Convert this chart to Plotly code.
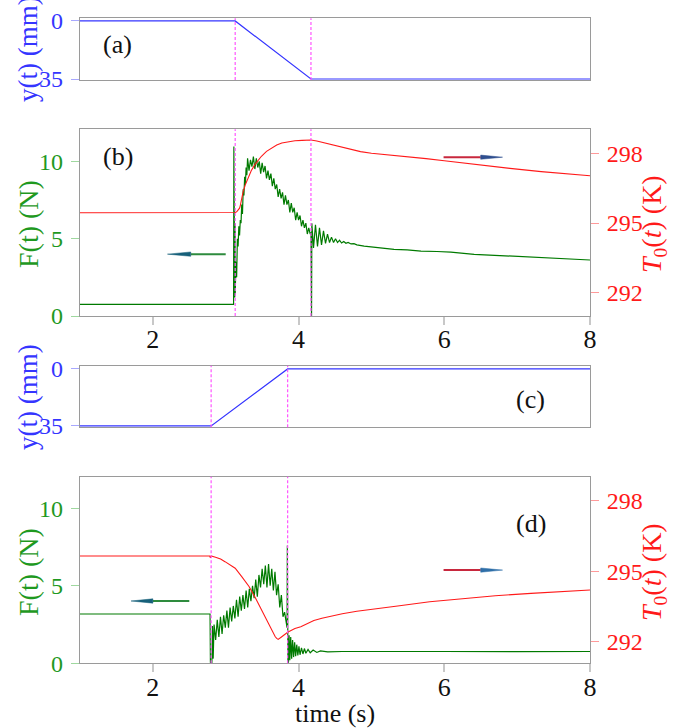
import plotly.graph_objects as go

# ---------------- data ----------------
# panel (a): displacement y(t)
t_a = [1.0, 3.13, 4.17, 8.0]
y_a = [0, 0, 35, 35]

# panel (b): force F(t) and temperature T0(t)
t_bF = [1.0, 2.0, 3.108, 3.112, 3.116, 3.120, 3.124, 3.128, 3.13, 3.14, 3.15, 3.16, 3.17, 3.18, 3.19,
        3.20, 3.21, 3.22, 3.23, 3.24, 3.25, 3.26, 3.27, 3.28, 3.29,
        3.30, 3.32, 3.34, 3.36, 3.38, 3.40, 3.42, 3.44, 3.46, 3.48, 3.50, 3.52, 3.54, 3.56, 3.58,
        3.60, 3.62, 3.64, 3.66, 3.68, 3.70, 3.72, 3.74, 3.76, 3.78, 3.80, 3.82, 3.84, 3.86, 3.88,
        3.90, 3.92, 3.94, 3.96, 3.98, 4.00, 4.02, 4.04, 4.06, 4.08, 4.10, 4.12, 4.14, 4.16,
        4.170, 4.173, 4.178, 4.182, 4.205, 4.232, 4.26, 4.287, 4.315, 4.342, 4.37, 4.397, 4.425,
        4.452, 4.48, 4.507, 4.535, 4.562, 4.59, 4.62, 4.65, 4.68, 4.72, 4.76, 4.80, 4.90, 5.0,
        5.15, 5.31, 5.49, 5.68, 5.9, 6.09, 6.41, 6.7, 7.0, 7.33, 7.55, 7.78, 8.0]
F_b = [0.75, 0.76, 0.75, 10.95, 3.0, 8.5, 1.2, 6.0, 1.4, 3.5, 2.5, 5.0, 4.5, 5.8, 5.2,
       6.2, 6.0, 7.2, 6.6, 8.2, 7.8, 9.0, 8.5, 9.6, 9.1,
       10.2, 9.4, 10.1, 9.65, 10.3, 9.5, 10.2, 9.6, 10.0, 9.2, 9.9, 9.3, 9.7, 8.9, 9.4,
       8.8, 9.2, 8.4, 8.9, 8.2, 8.5, 7.7, 8.2, 7.6, 8.0, 7.2, 7.8, 7.2, 7.5, 6.7,
       7.3, 6.7, 7.0, 6.2, 6.7, 6.2, 6.5, 5.8, 6.2, 5.7, 6.0, 5.3, 5.7, 5.3,
       5.4, 0.0, 0.0, 6.0, 4.4, 5.9, 4.5, 5.7, 4.6, 5.5, 4.7, 5.3, 4.75,
       5.1, 4.75, 5.0, 4.75, 4.9, 4.72, 4.82, 4.7, 4.76, 4.66, 4.68, 4.6, 4.52, 4.47,
       4.40, 4.31, 4.28, 4.20, 4.17, 4.13, 3.99, 3.92, 3.85, 3.79, 3.72, 3.66, 3.62]

t_bT = [1.0, 3.12, 3.13, 3.15, 3.17, 3.19, 3.20, 3.22, 3.24, 3.27, 3.31, 3.35, 3.40, 3.45, 3.49,
        3.56, 3.63, 3.70, 3.77, 3.86, 3.95, 4.05, 4.12, 4.17, 4.25, 4.35, 4.45, 4.58, 4.71,
        4.85, 5.0, 5.25, 5.49, 5.75, 6.0, 6.41, 6.9, 7.33, 7.7, 8.0]
T_b = [295.44, 295.44, 295.45, 295.48, 295.55, 295.64, 295.75, 296.05, 296.36, 296.65, 296.94,
       297.25, 297.51, 297.72, 297.87, 298.08, 298.23, 298.35, 298.44, 298.50, 298.54, 298.555,
       298.565, 298.57, 298.53, 298.45, 298.37, 298.26, 298.16, 298.07, 298.0, 297.93, 297.86,
       297.77, 297.68, 297.52, 297.35, 297.21, 297.11, 297.03]

# panel (c): displacement y(t)
t_c = [1.0, 2.80, 3.85, 8.0]
y_c = [35, 35, 0, 0]

# panel (d): force F(t) and temperature T0(t)
t_dF = [1.0, 2.0, 2.785, 2.790, 2.800, 2.810, 2.818, 2.828, 2.840, 2.862, 2.884, 2.906, 2.928,
        2.950, 2.972, 2.994, 3.016, 3.038, 3.060, 3.082, 3.104, 3.126, 3.148, 3.170, 3.192,
        3.214, 3.236, 3.258, 3.280, 3.302, 3.324, 3.346, 3.368, 3.390, 3.412, 3.434, 3.456,
        3.478, 3.500, 3.522, 3.544, 3.566, 3.588, 3.610, 3.632, 3.654, 3.676, 3.698, 3.720,
        3.742, 3.764, 3.786, 3.808, 3.830, 3.842, 3.846, 3.850, 3.854, 3.862, 3.870, 3.880,
        3.892, 3.905, 3.918, 3.932, 3.946, 3.960, 3.975, 3.990, 4.005, 4.02, 4.04, 4.06, 4.08,
        4.10, 4.13, 4.16, 4.20, 4.25, 4.30, 4.40, 4.6, 5.0, 6.0, 7.0, 8.0]
F_d = [3.18, 3.19, 3.18, 0.05, 0.0, 0.0, 2.4, 0.3, 2.5, 1.5, 2.8, 1.7, 3.0,
       1.9, 3.1, 2.3, 3.4, 2.3, 3.6, 2.7, 3.7, 2.9, 4.1, 3.0, 4.3,
       3.4, 4.4, 3.5, 4.7, 3.6, 4.8, 4.0, 5.0, 4.2, 5.4, 4.3, 5.7,
       4.9, 6.1, 5.1, 6.3, 4.9, 6.4, 5.0, 6.1, 4.7, 5.9, 4.4, 5.1,
       3.6, 4.4, 3.0, 3.3, 2.4, 2.3, 7.6, 3.0, 0.0, 0.1, 1.8, 0.2,
       1.7, 0.3, 1.5, 0.4, 1.35, 0.45, 1.2, 0.5, 1.1, 0.55, 1.0, 0.6, 0.95,
       0.65, 0.9, 0.68, 0.85, 0.7, 0.8, 0.74, 0.76, 0.75, 0.76, 0.75, 0.76]

t_dT = [1.0, 2.78, 2.79, 2.80, 2.86, 2.93, 2.99, 3.06, 3.13, 3.22, 3.32, 3.41, 3.50, 3.59, 3.65,
        3.68, 3.70, 3.72, 3.76, 3.80, 3.85, 3.89, 3.95, 4.03, 4.12, 4.21, 4.32, 4.44, 4.6, 4.8,
        5.05, 5.36, 5.8, 6.27, 6.7, 7.19, 7.6, 8.0]
T_d = [295.65, 295.65, 295.58, 295.65, 295.60, 295.52, 295.41, 295.28, 295.13, 294.77, 294.35,
       293.85, 293.28, 292.71, 292.36, 292.21, 292.14, 292.10, 292.19, 292.29, 292.40, 292.47,
       292.56, 292.64, 292.78, 292.90, 293.00, 293.09, 293.19, 293.30, 293.41, 293.52, 293.70,
       293.85, 293.96, 294.06, 294.14, 294.20]

# switching instants (dashed lines)
switch_ab = [3.13, 4.17]
switch_cd = [2.80, 3.85]

x_ticks = [2, 4, 6, 8]
F_ticks = [0, 5, 10]
T_ticks = [292, 295, 298]
y_ticks = [0, 35]

# arrows: (tail_x, head_x, shaft_end_x, y)
arrow_bF = (3.0, 2.2, 2.52, 4.0)
arrow_bT = (5.99, 6.80, 6.50, 297.83)
arrow_dF = (2.5, 1.70, 2.0, 4.02)
arrow_dT = (5.99, 6.80, 6.50, 295.05)

# ---------------- styling ----------------
FONT = "'Liberation Serif', 'DejaVu Serif', serif"
FS = 24
BLUE = "#3535ff"
GREEN_LINE = "#007a00"
GREEN_TXT = "#1f991f"
RED = "#ff1a1a"
AX = "#9a9a9a"
MAG = "#ff55ff"

fig = go.Figure()

fig.add_trace(go.Scatter(x=t_a, y=y_a, mode="lines", line=dict(color=BLUE, width=1.2),
                         xaxis="x", yaxis="y", showlegend=False))
fig.add_trace(go.Scatter(x=t_bF, y=F_b, mode="lines", line=dict(color=GREEN_LINE, width=1.2),
                         xaxis="x2", yaxis="y2", showlegend=False))
fig.add_trace(go.Scatter(x=t_bT, y=T_b, mode="lines", line=dict(color=RED, width=1.1),
                         xaxis="x2", yaxis="y3", showlegend=False))
fig.add_trace(go.Scatter(x=t_c, y=y_c, mode="lines", line=dict(color=BLUE, width=1.2),
                         xaxis="x3", yaxis="y4", showlegend=False))
fig.add_trace(go.Scatter(x=t_dF, y=F_d, mode="lines", line=dict(color=GREEN_LINE, width=1.2),
                         xaxis="x4", yaxis="y5", showlegend=False))
fig.add_trace(go.Scatter(x=t_dT, y=T_d, mode="lines", line=dict(color=RED, width=1.1),
                         xaxis="x4", yaxis="y6", showlegend=False))


def xax(anchor, labels):
    d = dict(anchor=anchor, domain=[0, 1], range=[1, 8], showgrid=False, zeroline=False,
             showline=True, linecolor=AX, linewidth=1.3, mirror=True, automargin=False,
             tickvals=x_ticks, showticklabels=labels, ticklabelstandoff=-8,
             tickfont=dict(family=FONT, size=26, color="#111"))
    if labels:
        d.update(ticks="outside", ticklen=8, tickcolor="#c8c8c8", tickwidth=1.5)
    else:
        d.update(ticks="")
    return d


def yax(domain, rng, vals, color, tickc, side="left", overlay=None, anchor=None, line=True):
    d = dict(domain=domain, range=rng, tickvals=vals, showgrid=False, zeroline=False,
             ticks="outside", ticklen=8, tickcolor=tickc, tickwidth=1.3, automargin=False,
             tickfont=dict(family=FONT, size=FS, color=color), side=side,
             showline=line, linecolor=AX, linewidth=1.3, mirror=line, ticklabelstandoff=3)
    if overlay:
        d["overlaying"] = overlay
    if anchor:
        d["anchor"] = anchor
    return d


dom_a = [0.8901, 0.9749]
dom_b = [0.5659, 0.8224]
dom_c = [0.4131, 0.4977]
dom_d = [0.0889, 0.3452]

fig.update_layout(
    width=696, height=728,
    margin=dict(l=80, r=106, t=0, b=0, pad=0),
    paper_bgcolor="white", plot_bgcolor="white",
    font=dict(family=FONT, size=FS),
    xaxis=xax("y", False),
    xaxis2=xax("y2", True),
    xaxis3=xax("y4", False),
    xaxis4=xax("y5", True),
    yaxis=yax(dom_a, [35.6, -1.6], y_ticks, BLUE, "#a8a8ff", anchor="x"),
    yaxis2=yax(dom_b, [0, 12.07], F_ticks, GREEN_TXT, "#9fd89f", anchor="x2"),
    yaxis3=yax(dom_b, [291.0, 299.03], T_ticks, RED, "#ff9a9a", side="right", overlay="y2",
               anchor="x2", line=False),
    yaxis4=yax(dom_c, [35.8, -2.0], y_ticks, BLUE, "#a8a8ff", anchor="x3"),
    yaxis5=yax(dom_d, [0, 12.04], F_ticks, GREEN_TXT, "#9fd89f", anchor="x4"),
    yaxis6=yax(dom_d, [291.08, 299.03], T_ticks, RED, "#ff9a9a", side="right", overlay="y5",
               anchor="x4", line=False),
)

shapes = []
for xr, yr, xs in [("x", "y domain", switch_ab), ("x2", "y2 domain", switch_ab),
                   ("x3", "y4 domain", switch_cd), ("x4", "y5 domain", switch_cd)]:
    for xv in xs:
        shapes.append(dict(type="line", xref=xr, yref=yr, x0=xv, x1=xv, y0=0, y1=1,
                           line=dict(color=MAG, width=1.2, dash="3px,2px")))


def arrow(xr, yr, spec, shaft_color, head_color, half):
    tail, head, shaft_end, yv = spec
    out = [dict(type="line", xref=xr, yref=yr, x0=tail, x1=shaft_end, y0=yv, y1=yv,
                line=dict(color=shaft_color, width=2))]
    out.append(dict(type="path", xref=xr, yref=yr,
                    path=f"M {head},{yv} L {shaft_end},{yv + half} L {shaft_end},{yv - half} Z",
                    fillcolor=head_color, line=dict(color=head_color, width=0.5)))
    return out


shapes += arrow("x2", "y2", arrow_bF, "#2e8b3e", "#17607a", 0.14)
shapes += arrow("x2", "y3", arrow_bT, "#c8283e", "#2f4f8f", 0.09)
shapes += arrow("x4", "y5", arrow_dF, "#2e8b3e", "#17607a", 0.14)
shapes += arrow("x4", "y6", arrow_dT, "#c8283e", "#2f6fa8", 0.09)
fig.update_layout(shapes=shapes)

ann = []


def txt(x, y, s, xr, yr, color="#111", angle=0, size=26):
    ann.append(dict(x=x, y=y, xref=xr, yref=yr, text=s, showarrow=False, textangle=angle,
                    font=dict(family=FONT, size=size, color=color), xanchor="center", yanchor="middle"))


txt(1.51, 14.5, "(a)", "x", "y")
txt(1.52, 10.3, "(b)", "x2", "y2")
txt(7.18, 19.0, "(c)", "x3", "y4")
txt(7.19, 9.05, "(d)", "x4", "y5")


def py(px):
    return 1 - px / 728


def pxx(px):
    return (px - 80) / 510


txt(pxx(28), py(49), "y(t) (mm)", "paper", "paper", BLUE, -90, 27)
txt(pxx(28), py(224), "F(t) (N)", "paper", "paper", GREEN_TXT, -90, 28)
txt(pxx(653), py(224), "<i>T</i><sub>0</sub>(<i>t</i>) (K)", "paper", "paper", RED, -90, 28)
txt(pxx(28), py(397), "y(t) (mm)", "paper", "paper", BLUE, -90, 27)
txt(pxx(28), py(572), "F(t) (N)", "paper", "paper", GREEN_TXT, -90, 28)
txt(pxx(653), py(572), "<i>T</i><sub>0</sub>(<i>t</i>) (K)", "paper", "paper", RED, -90, 28)
txt(0.5, py(713), "time (s)", "paper", "paper", "#111", 0)
fig.update_layout(annotations=ann)

fig.write_html("out.html", config={"displayModeBar": False},
               post_script="document.body.style.margin='0';")
